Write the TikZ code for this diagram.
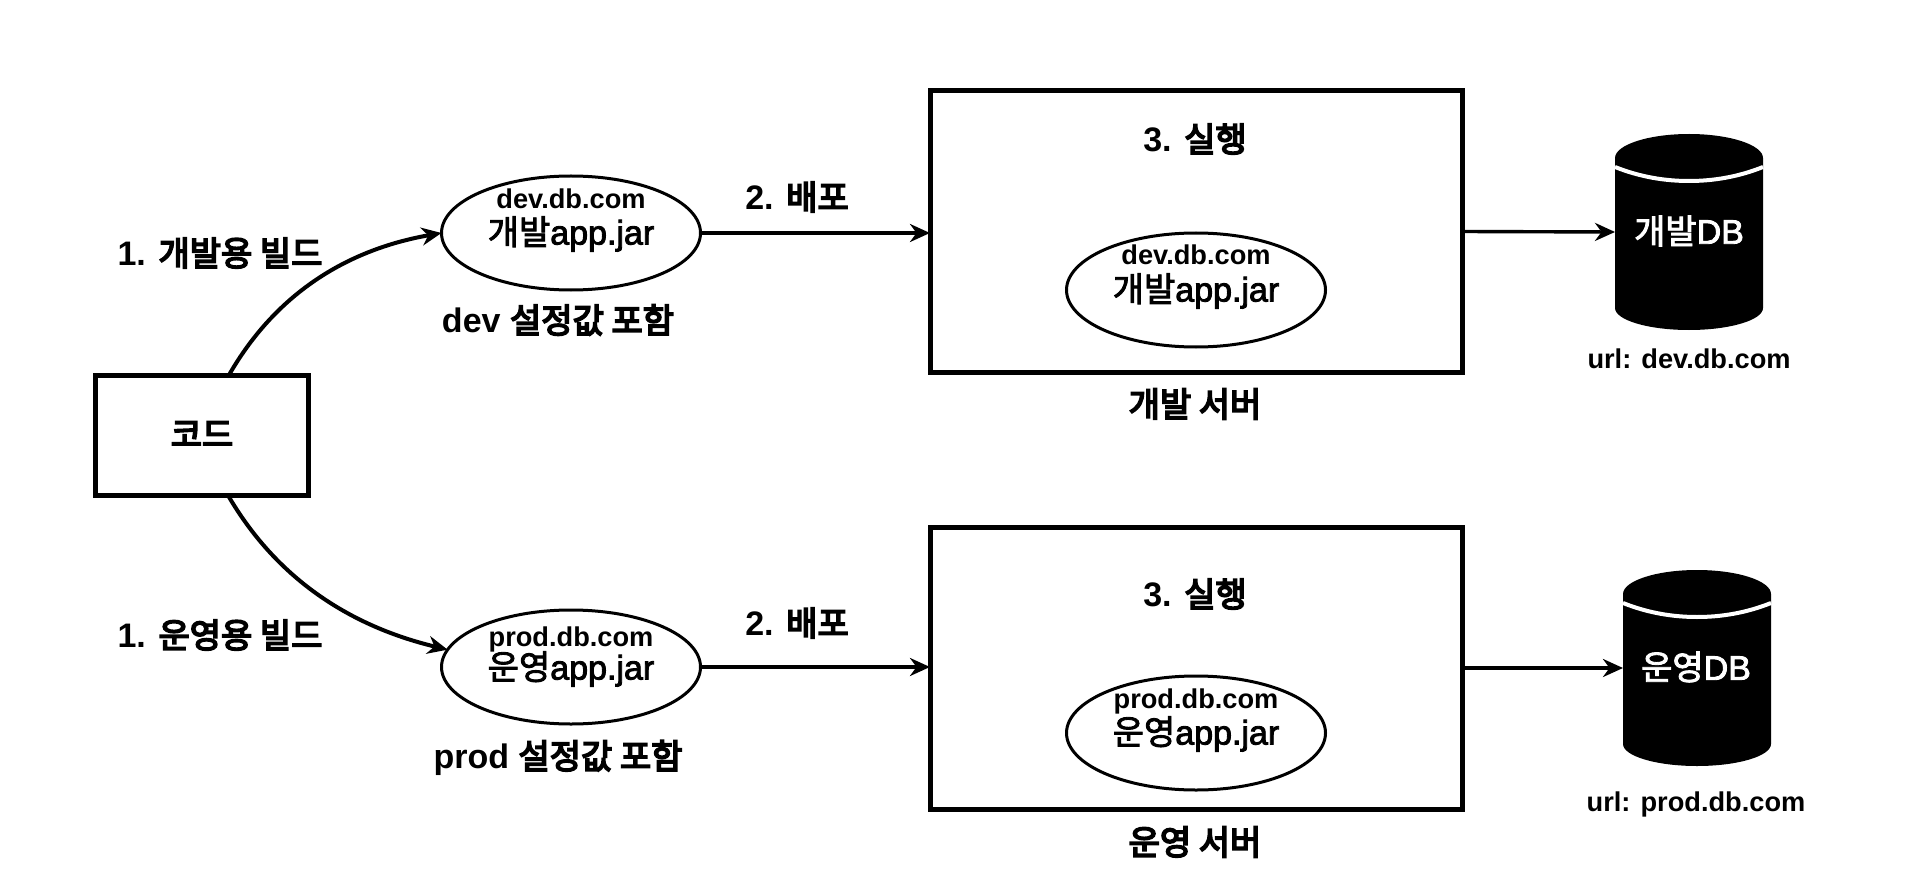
\documentclass[tikz,border=0pt]{standalone}
\usepackage{fontspec}
\setmainfont{Liberation Sans}
\newfontfamily\krmed[FakeBold=5]{Noto Sans CJK KR}
\newfontfamily\krlight[FakeBold=2.5]{Noto Sans CJK KR}
\newfontfamily\latmed[FakeBold=2.5]{Liberation Sans}
\newfontfamily\smallbold[FakeBold=1]{Liberation Sans Bold}
\newcommand{\K}[1]{{\mdseries\krmed #1}}
\newcommand{\J}[1]{{\mdseries\krlight #1}}
\usetikzlibrary{shapes.geometric,arrows.meta}
\tikzset{
  box/.style={draw=black,line width=2.5pt,rectangle,fill=white,inner sep=0pt,outer sep=0pt},
  jar/.style={draw=black,line width=1.5pt,ellipse,fill=white,inner sep=0pt,outer sep=0pt,minimum width=129.5pt,minimum height=57pt},
  dbshape/.style={rectangle,draw=none,inner sep=0pt,outer sep=0pt,minimum width=74pt,minimum height=98pt},
  dbfill/.style={fill=black,draw=none},
  lbl/.style={font=\fontsize{17}{20}\selectfont\bfseries,inner sep=0pt,text=black},
  mid/.style={font=\fontsize{17}{20}\selectfont\latmed,inner sep=0pt,text=black},
  small/.style={font=\fontsize{13.6}{16}\selectfont\bfseries,inner sep=0pt,text=black},
  inv/.style={font=\fontsize{17}{20}\selectfont\latmed,inner sep=0pt,text=white},
  conn/.style={draw=black,line width=1.7pt,-{Stealth[length=10pt,width=9pt]}},
  curve/.style={draw=black,line width=2pt,-{Stealth[length=10pt,width=9pt]}},
  arcw/.style={draw=white,line width=2pt},
}
\begin{document}
\begin{tikzpicture}[x=0.5pt,y=-0.5pt]
\useasboundingbox[fill=white] (0,0) rectangle (1916,882);

% main boxes
\node[box,minimum width=106.5pt,minimum height=60pt] (code) at (202,435.5) {};
\node[lbl] (codet) at (202,434) {\K{코드}};
\node[jar] (jar1) at (571,233) {};
\node[jar] (jar2) at (571,667) {};
\node[box,minimum width=266pt,minimum height=141pt] (srv1) at (1196,231.5) {};
\node[box,minimum width=266pt,minimum height=141pt] (srv2) at (1196,668) {};
\node[jar] (jar3) at (1196,290) {};
\node[jar] (jar4) at (1196,733) {};
\node[dbshape] (db1) at (1689,232) {};
\node[dbshape] (db2) at (1697,668) {};

% cylinders
\fill[dbfill] (1615,158) .. controls (1615,145) and (1648,134) .. (1689,134) .. controls (1730,134) and (1763,145) .. (1763,158) -- (1763,308) .. controls (1763,320) and (1730,330) .. (1689,330) .. controls (1648,330) and (1615,320) .. (1615,308) -- cycle;
\fill[dbfill] (1623,594) .. controls (1623,581) and (1656,570) .. (1697,570) .. controls (1738,570) and (1771,581) .. (1771,594) -- (1771,744) .. controls (1771,756) and (1738,766) .. (1697,766) .. controls (1656,766) and (1623,756) .. (1623,744) -- cycle;

% white rims
\draw[arcw] (1615,167) .. controls (1640,177) and (1665,181) .. (1689,181) .. controls (1713,181) and (1738,177) .. (1763,167);
\draw[arcw] (1623,603) .. controls (1648,613) and (1673,617) .. (1697,617) .. controls (1721,617) and (1746,613) .. (1771,603);

% connectors
\coordinate (c1s) at (229,375);
\coordinate (c2s) at (229,497);
\draw[curve] (c1s) .. controls (275,295) and (345,250) .. (jar1.west);
\draw[curve] (c2s) .. controls (275,575) and (345,625) .. (jar2.172);
\draw[conn] (jar1.east) -- (srv1.west |- jar1.east);
\draw[conn] (jar2.east) -- (srv2.west |- jar2.east);
\draw[conn] (srv1.east) -- (db1.west);
\draw[conn] (srv2.east) -- (db2.west);

% labels
\node[lbl] (l1) at (220,253) {1. \K{개발용 빌드}};
\node[lbl] (l2) at (220,635) {1. \K{운영용 빌드}};
\node[lbl] (l3) at (558,320) {dev \K{설정값 포함}};
\node[lbl] (l4) at (558,758) {prod \K{설정값 포함}};
\node[lbl] (l5) at (797,197) {2. \K{배포}};
\node[lbl] (l6) at (797,623) {2. \K{배포}};
\node[lbl] (l7) at (1195,139) {3. \K{실행}};
\node[lbl] (l8) at (1195,594) {3. \K{실행}};
\node[lbl] (l9) at (1195,404) {\K{개발 서버}};
\node[lbl] (l10) at (1195,842) {\K{운영 서버}};
\node[small] (u1) at (1689,359) {url: dev.db.com};
\node[small] (u2) at (1696,804) {url: prod.db.com};
\node[small] (j1a) at (571,199) {dev.db.com};
\node[mid] (j1b) at (571,234) {\J{개발}app.jar};
\node[small] (j2a) at (571,639) {prod.db.com};
\node[mid] (j2b) at (571,669) {\J{운영}app.jar};
\node[small] (j3a) at (1196,255) {dev.db.com};
\node[mid] (j3b) at (1196,291) {\J{개발}app.jar};
\node[small] (j4a) at (1196,701) {prod.db.com};
\node[mid] (j4b) at (1196,734) {\J{운영}app.jar};
\node[inv] (d1) at (1689,231) {\J{개발}DB};
\node[inv] (d2) at (1696,667) {\J{운영}DB};
\end{tikzpicture}
\end{document}
